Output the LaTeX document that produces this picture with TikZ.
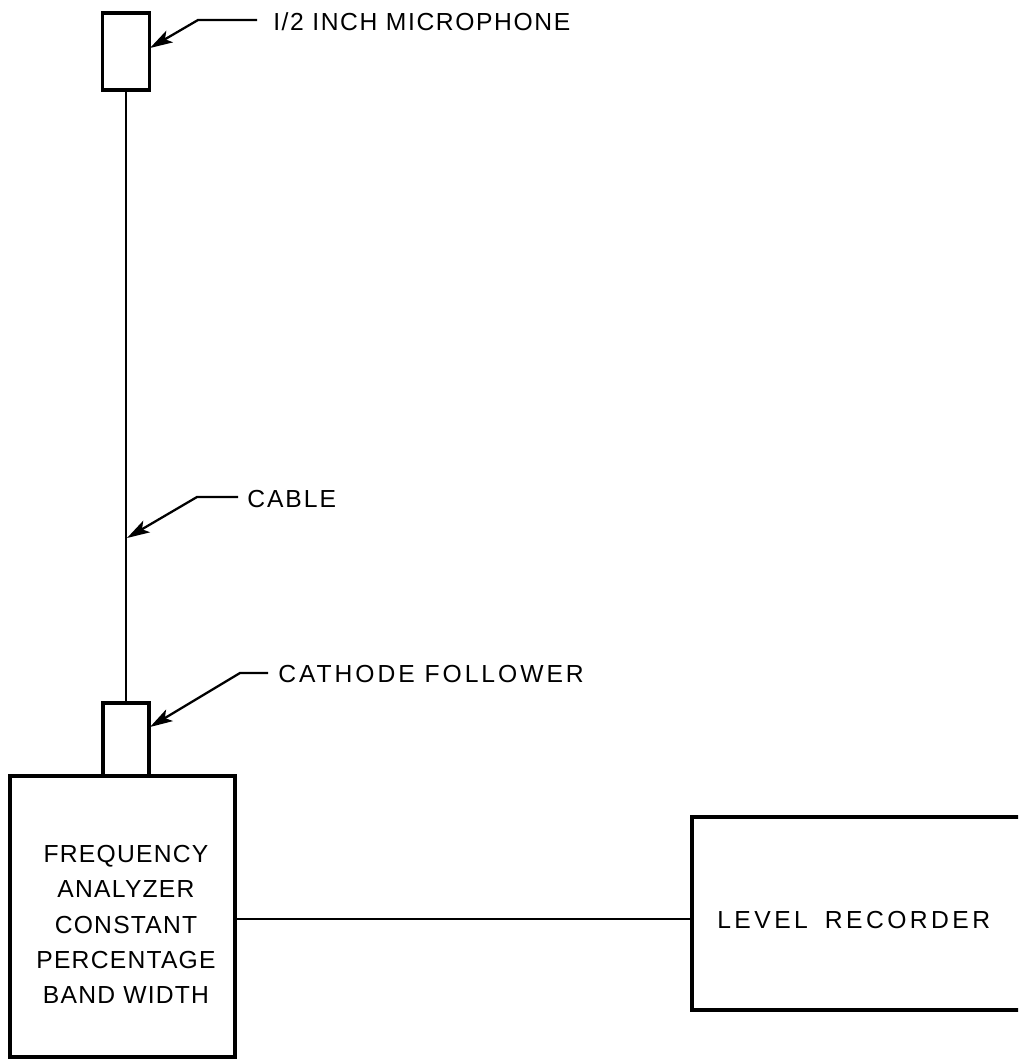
\documentclass[tikz,border=0pt]{standalone}
\usepackage{fontspec}
\setmainfont{Liberation Sans}
\usetikzlibrary{arrows.meta}
\begin{document}
\begin{tikzpicture}[x=0.75pt,y=-0.75pt,
  box/.style={draw,line width=2.5pt,inner sep=0pt,line join=miter},
  wire/.style={line width=2.1pt},
  leader/.style={line width=1.7pt,-{Stealth[length=17pt,width=10pt,inset=4pt]}},
  lbl/.style={inner sep=0pt,font=\fontsize{18.5}{22}\selectfont},
  fatext/.style={inner sep=0pt,align=center,font=\addfontfeature{LetterSpace=5}\fontsize{18.5}{26.5}\selectfont}]
\clip (0,0) rectangle (1018,1060);
% boxes
\node[box,minimum width=35pt,minimum height=57.75pt] (mic) at (126,51.5) {};
\node[box,minimum width=34.5pt,minimum height=54.75pt] (cf) at (126,739.5) {};
\node[box,minimum width=168.75pt,minimum height=210.75pt] (fa) at (122.5,916.5) {};
\node[box,minimum width=255pt,minimum height=144.75pt] (lr) at (862,913.5) {};
% texts
\node[fatext,anchor=north] (fatxt) at (126,845) {FREQUENCY\\ANALYZER\\CONSTANT\\PERCENTAGE\\BAND WIDTH};
\node[lbl,anchor=base west,font=\addfontfeature{LetterSpace=14}\fontsize{18.5}{22}\selectfont] (lrtxt) at (717,928) {LEVEL\hspace{5pt} RECORDER};
\node[lbl,anchor=base west,font=\addfontfeature{LetterSpace=6.5}\fontsize{18.5}{22}\selectfont] (micl) at (273,30) {I/2 INCH MICROPHONE};
\node[lbl,anchor=base west,font=\addfontfeature{LetterSpace=8}\fontsize{18.5}{22}\selectfont] (cablel) at (247,507) {CABLE};
\node[lbl,anchor=base west,font=\addfontfeature{LetterSpace=12}\fontsize{18.5}{22}\selectfont] (cfl) at (278,682) {CATHODE FOLLOWER};
% connectors
\draw[wire] (mic.south) -- (cf.north);
\draw[wire] (fa.east |- 0,919) -- (lr.west |- 0,919);
% leaders
\coordinate (m0) at (257,20);
\coordinate (mk) at (198,20);
\coordinate (mt) at (150,48);
\draw[leader] (m0) -- (mk) -- (mt);
\coordinate (c0) at (238,497);
\coordinate (ck) at (197,497);
\coordinate (ct) at (127,538);
\draw[leader] (c0) -- (ck) -- (ct);
\coordinate (f0) at (268,673);
\coordinate (fk) at (240,673);
\coordinate (ft) at (150,727);
\draw[leader] (f0) -- (fk) -- (ft);
\end{tikzpicture}
\end{document}
